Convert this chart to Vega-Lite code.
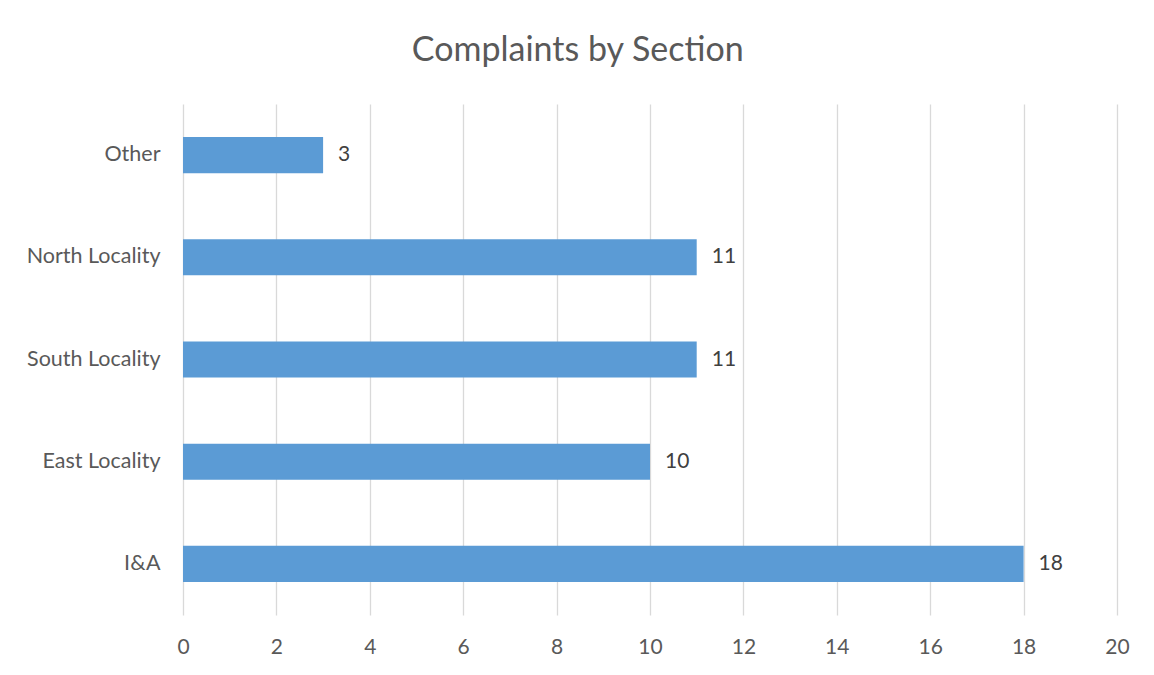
{
  "$schema": "https://vega.github.io/schema/vega-lite/v6.json",
  "autosize": "none",
  "width": 934,
  "height": 511,
  "padding": {"left": 183, "top": 104, "right": 37, "bottom": 60},
  "background": "white",
  "title": {
    "text": "Complaints by Section",
    "font": "Lato",
    "fontSize": 34,
    "fontWeight": "normal",
    "color": "#595959",
    "anchor": "middle",
    "frame": "bounds",
    "offset": 36
  },
  "data": {
    "values": [
      {"section": "Other", "count": 3},
      {"section": "North Locality", "count": 11},
      {"section": "South Locality", "count": 11},
      {"section": "East Locality", "count": 10},
      {"section": "I&A", "count": 18}
    ]
  },
  "encoding": {
    "y": {
      "field": "section",
      "type": "nominal",
      "sort": null,
      "scale": {"paddingInner": 0.647, "paddingOuter": 0.3235},
      "axis": {
        "title": null,
        "domain": false,
        "ticks": false,
        "grid": false,
        "labelFont": "Lato",
        "labelFontSize": 21.5,
        "labelColor": "#595959",
        "labelPadding": 23
      }
    },
    "x": {
      "field": "count",
      "type": "quantitative",
      "scale": {"domain": [0, 20]},
      "axis": {
        "title": null,
        "values": [0, 2, 4, 6, 8, 10, 12, 14, 16, 18, 20],
        "domain": false,
        "ticks": false,
        "grid": true,
        "gridColor": "#d9d9d9",
        "gridWidth": 1.3,
        "labelFlush": false,
        "labelFont": "Lato",
        "labelFontSize": 21,
        "labelColor": "#595959",
        "labelPadding": 21
      }
    }
  },
  "layer": [
    {"mark": {"type": "bar", "color": "#5B9BD5"}},
    {
      "mark": {"type": "text", "align": "left", "dx": 15, "font": "Lato", "fontSize": 21, "color": "#404040"},
      "encoding": {"text": {"field": "count", "type": "quantitative"}}
    }
  ],
  "config": {"view": {"stroke": null}}
}
